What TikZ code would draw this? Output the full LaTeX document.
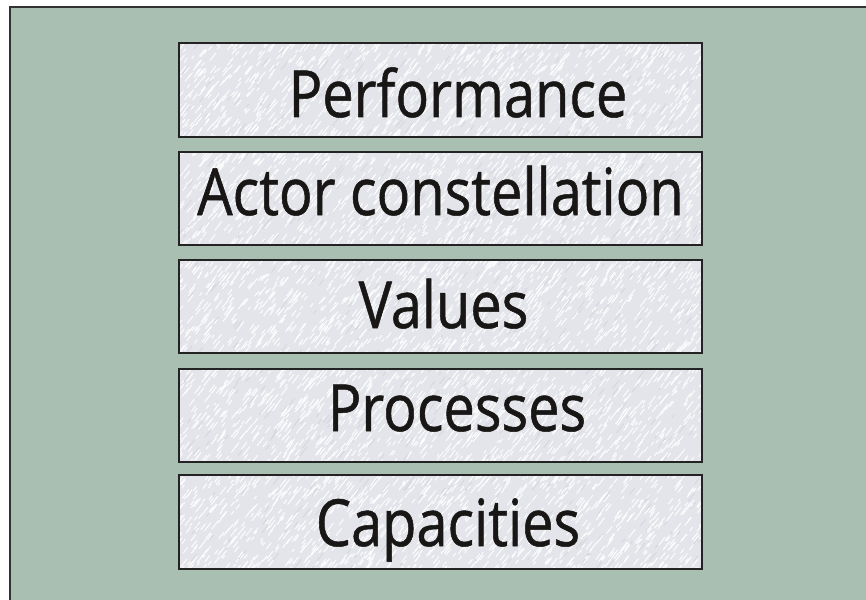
\documentclass[tikz,border=0pt]{standalone}
\usepackage{fontspec}
\setmainfont{Open Sans}
\newfontfamily\lblfont[FakeStretch=0.86,FakeBold=0.8]{Open Sans}
\definecolor{bgc}{RGB}{168,191,178}
\definecolor{boxfillc}{RGB}{227,229,234}
\definecolor{streakgray}{RGB}{208,211,217}
\definecolor{framec}{RGB}{50,50,50}
\definecolor{boxlinec}{RGB}{35,35,35}
\definecolor{txtc}{RGB}{25,22,22}
\tikzset{
  boxstyle/.style={draw=boxlinec, line width=2pt, minimum width=523pt, inner sep=0pt, fill=none},
  lbl/.style={anchor=base, text=txtc, font=\lblfont\fontsize{65}{70}\selectfont, inner sep=0pt},
  streakw/.style={white, line width=1pt, opacity=0.9, line cap=round},
  streakg/.style={streakgray, line width=0.8pt, opacity=0.8, line cap=round},
}
\newcommand\texfill[4]{%
  \begin{scope}
    \clip (#1,#2) rectangle (#3,#4);
    \fill[boxfillc] (#1,#2) rectangle (#3,#4);
    \foreach \k in {1,...,150}{
      \pgfmathsetmacro\px{#1-10+rnd*(#3-#1+20)}
      \pgfmathsetmacro\py{#2-5+rnd*(#4-#2+10)}
      \pgfmathsetmacro\ll{4+rnd*8}
      \draw[streakg] (\px,\py) -- ++(-52:\ll);
    }
    \foreach \k in {1,...,1100}{
      \pgfmathsetmacro\px{#1-10+rnd*(#3-#1+20)}
      \pgfmathsetmacro\py{#2-5+rnd*(#4-#2+10)}
      \pgfmathsetmacro\ll{3+rnd*8}
      \draw[streakw] (\px,\py) -- ++(-52:\ll);
    }
  \end{scope}}
\begin{document}
\begin{tikzpicture}[x=1pt,y=-1pt]
\useasboundingbox (0,0) rectangle (866,599);
\clip (0,0) rectangle (866,599);
\fill[white] (0,0) rectangle (866,599);
\fill[bgc] (10,7) rectangle (870,605);
\draw[framec, line width=2.2pt] (10,610) -- (10,7) -- (880,7);
\pgfmathsetseed{4242}
% boxes
\texfill{178.5}{43}{701.5}{137}
\node[boxstyle, minimum height=94pt] (b1) at (440,90) {};
\texfill{178.5}{152}{701.5}{245}
\node[boxstyle, minimum height=93pt] (b2) at (440,198.5) {};
\texfill{178.5}{260}{701.5}{353}
\node[boxstyle, minimum height=93pt] (b3) at (440,306.5) {};
\texfill{178.5}{368.5}{701.5}{462}
\node[boxstyle, minimum height=93.5pt] (b4) at (440,415.25) {};
\texfill{178.5}{475}{701.5}{569}
\node[boxstyle, minimum height=94pt] (b5) at (440,522) {};
% labels
\node[lbl] (t1) at (458,117) {Performance};
\node[lbl] (t2) at (440.5,215) {Actor constellation};
\node[lbl] (t3) at (443.5,328) {Values};
\node[lbl] (t4) at (457,431) {Processes};
\node[lbl] (t5) at (448,546) {Capacities};
\end{tikzpicture}
\end{document}
